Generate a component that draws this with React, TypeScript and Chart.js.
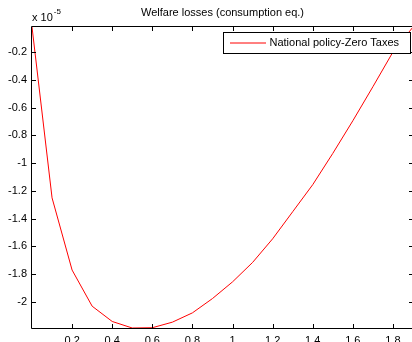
import React, { useEffect, useRef } from "react";
import { Chart, registerables } from "chart.js";

Chart.register(...registerables);

const chartTitle = "Welfare losses (consumption eq.)";
const seriesLabel = "National policy-Zero Taxes";
const xValues = [0, 0.1, 0.2, 0.3, 0.4, 0.5, 0.6, 0.7, 0.8, 0.9, 1.0, 1.1, 1.2, 1.3, 1.4, 1.5, 1.6, 1.7, 1.8, 1.9];
const welfareLoss = [
  -0.02, -1.25, -1.77, -2.03, -2.14, -2.187, -2.185, -2.145, -2.078, -1.975,
  -1.855, -1.715, -1.545, -1.35, -1.155, -0.93, -0.695, -0.45, -0.2, -0.02,
];
const xTicks = [0.2, 0.4, 0.6, 0.8, 1, 1.2, 1.4, 1.6, 1.8];
const yTicks = [-0.2, -0.4, -0.6, -0.8, -1, -1.2, -1.4, -1.6, -1.8, -2];
const xMin = 0;
const xMax = 1.9;
const yMin = -2.187;
const yMax = -0.02;

const FONT = '"Liberation Sans", Arial, sans-serif';

const framePlugin = {
  id: "matlabFrame",
  afterDraw(chart: any) {
    const { ctx, chartArea, scales } = chart;
    const { left, top, right, bottom } = chartArea;
    ctx.save();
    ctx.strokeStyle = "#000";
    ctx.lineWidth = 1;
    ctx.beginPath();
    ctx.rect(Math.round(left) - 0.5, Math.round(top) - 0.5, Math.round(right - left) + 1, Math.round(bottom - top) + 1);
    ctx.stroke();

    ctx.beginPath();
    xTicks.forEach((v) => {
      const px = Math.round(scales.x.getPixelForValue(v)) + 0.5;
      ctx.moveTo(px, bottom);
      ctx.lineTo(px, bottom - 4);
      ctx.moveTo(px, top);
      ctx.lineTo(px, top + 4);
    });
    yTicks.forEach((v) => {
      const py = Math.round(scales.y.getPixelForValue(v)) + 0.5;
      ctx.moveTo(left, py);
      ctx.lineTo(left + 4, py);
      ctx.moveTo(right, py);
      ctx.lineTo(right - 4, py);
    });
    ctx.stroke();

    // title
    ctx.fillStyle = "#000";
    ctx.font = `11px ${FONT}`;
    ctx.textAlign = "center";
    ctx.textBaseline = "alphabetic";
    ctx.fillText(chartTitle, (left + right) / 2, 16);

    // exponent
    ctx.textAlign = "left";
    ctx.fillText("x 10", left, 21);
    const w = ctx.measureText("x 10").width;
    ctx.font = `8px ${FONT}`;
    ctx.fillText("-5", left + w + 1, 14);

    // legend
    const ds = chart.data.datasets[0];
    ctx.fillStyle = "#fff";
    ctx.fillRect(223.5, 32.5, 187, 21);
    ctx.strokeStyle = "#000";
    ctx.lineWidth = 1;
    ctx.strokeRect(223.5, 32.5, 187, 21);
    ctx.strokeStyle = ds.borderColor;
    ctx.beginPath();
    ctx.moveTo(230, 43);
    ctx.lineTo(266, 43);
    ctx.stroke();
    ctx.fillStyle = "#000";
    ctx.font = `11px ${FONT}`;
    ctx.textBaseline = "middle";
    ctx.fillText(ds.label, 269.5, 43);
    ctx.restore();
  },
};

export default function App() {
  const ref = useRef<HTMLCanvasElement | null>(null);
  useEffect(() => {
    if (!ref.current) return;
    const chart = new Chart(ref.current, {
      type: "line",
      data: {
        datasets: [
          {
            label: seriesLabel,
            data: xValues.map((x, i) => ({ x, y: welfareLoss[i] })),
            borderColor: "#ff0000",
            borderWidth: 1,
            pointRadius: 0,
            tension: 0,
            fill: false,
          },
        ],
      },
      options: {
        animation: false,
        responsive: false,
        devicePixelRatio: 1,
        layout: { padding: { left: 0, top: 27, right: 7, bottom: 0 } },
        plugins: {
          legend: { display: false },
          title: { display: false },
          tooltip: { enabled: false },
        },
        scales: {
          x: {
            type: "linear",
            min: xMin,
            max: xMax,
            grid: { display: false, drawTicks: false },
            border: { display: false },
            afterBuildTicks: (s: any) => {
              s.ticks = xTicks.map((v) => ({ value: v }));
            },
            afterFit: (s: any) => {
              s.height = 22;
            },
            ticks: {
              color: "#000",
              font: { family: FONT, size: 11 },
              padding: 6,
              maxRotation: 0,
              autoSkip: false,
              callback: (v: any) => String(v),
            },
          },
          y: {
            type: "linear",
            min: yMin,
            max: yMax,
            grid: { display: false, drawTicks: false },
            border: { display: false },
            afterBuildTicks: (s: any) => {
              s.ticks = yTicks.map((v) => ({ value: v }));
            },
            afterFit: (s: any) => {
              s.width = 32;
            },
            ticks: {
              color: "#000",
              font: { family: FONT, size: 11 },
              padding: 5,
              autoSkip: false,
              callback: (v: any) => String(v),
            },
          },
        },
      },
      plugins: [framePlugin],
    });
    return () => chart.destroy();
  }, []);
  return (
    <div style={{ position: "fixed", left: 0, top: 0, width: 412, height: 342, overflow: "hidden", background: "#fff" }}>
      <canvas ref={ref} width={420} height={350} style={{ display: "block" }} />
    </div>
  );
}
